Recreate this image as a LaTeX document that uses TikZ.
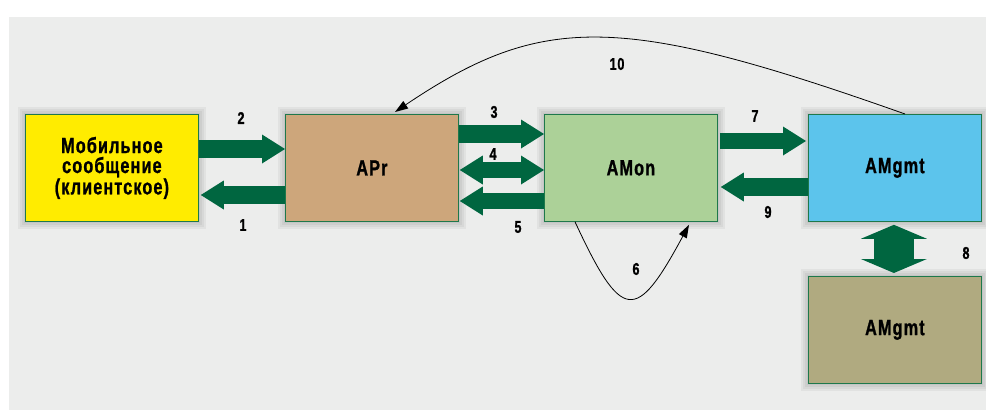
\documentclass[tikz,border=0pt]{standalone}
\usepackage{fontspec}
\usetikzlibrary{arrows.meta,calc,backgrounds}
\newfontfamily\lab{Liberation Sans}[FakeStretch=0.74,LetterSpace=5,FakeBold=1]

\definecolor{bgray}{RGB}{236,237,236}
\definecolor{boxline}{RGB}{30,120,75}
\definecolor{fatgreen}{RGB}{0,102,64}
\definecolor{cyell}{RGB}{255,236,0}
\definecolor{ctan}{RGB}{205,166,123}
\definecolor{cgreen}{RGB}{172,209,152}
\definecolor{cblue}{RGB}{92,196,236}
\definecolor{colive}{RGB}{176,170,128}

\tikzset{
  box/.style={draw=boxline, line width=0.8pt, minimum width=173pt,
    minimum height=107pt, inner sep=0pt, anchor=north west, align=center,
    font=\lab\bfseries\fontsize{22}{20}\selectfont},
  num/.style={inner sep=0pt, font=\lab\bfseries\fontsize{17}{17}\selectfont},
  fat/.style={draw=fatgreen, line width=#1},
  fat/.default=18pt,
  fathead/.tip={Triangle[width=29pt,length=23pt,line width=0pt]},
  thin/.style={draw=black, line width=0.8pt,
    -{Triangle[width=9pt,length=13pt,line width=0pt]}},
  shadowlayer/.style={fill=black, fill opacity=0.045},
}

\begin{document}
\begin{tikzpicture}[x=1pt,y=-1pt]
  \useasboundingbox (0,0) rectangle (986,412);

  % blocks
  \node[box, fill=cyell]  (mob)  at (25,114)  {Мобильное\\сообщение\\(клиентское)};
  \node[box, fill=ctan]   (apr)  at (285,114) {APr};
  \node[box, fill=cgreen] (amon) at (544,114) {AMon};
  \node[box, fill=cblue]  (mgt)  at (808,114) {AMgmt};
  \node[box, fill=colive] (mgt2) at (808,276) {AMgmt};

  % panel and soft drop shadows behind the blocks
  \begin{scope}[on background layer]
    \fill[bgray] (9,17) rectangle (986,410);
    \begin{scope}[shift={(10,10)}]
      \foreach \n in {mob,apr,amon,mgt,mgt2}
        \foreach \r in {-7,-5,...,7}
          \fill[shadowlayer] ($(\n.north west)+(-\r,-\r)$) rectangle ($(\n.south east)+(\r,\r)$);
    \end{scope}
    \fill[white] (0,410) rectangle (986,412);
  \end{scope}

  % thick message arrows
  \draw[fat, -fathead] ($(mob.north east)+(0,35)$) -- ($(apr.north west)+(0,35)$);
  \draw[fat, -fathead] ($(apr.north west)+(0,81)$) -- ($(mob.north east)+(2,81)$);
  \draw[fat, -fathead] ($(apr.north east)+(0,20)$) -- ($(amon.north west)+(0,20)$);
  \draw[fat=16pt, fathead-fathead] ($(apr.north east)+(1,56)$) -- ($(amon.north west)+(0,56)$);
  \draw[fat=16pt, -fathead] ($(amon.north west)+(0,87)$) -- ($(apr.north east)+(1,87)$);
  \draw[fat=16pt, -fathead] ($(amon.north east)+(2,27)$) -- ($(mgt.north west)+(-2,27)$);
  \draw[fat, -fathead] ($(mgt.north west)+(0,73)$) -- ($(amon.north east)+(3,73)$);
  \draw[fat=40pt, {Triangle[width=66pt,length=14pt,line width=0pt]}-{Triangle[width=66pt,length=14pt,line width=0pt]}]
    ($(mgt.south)+(-1,3)$) -- ($(mgt2.north)+(-1,-3)$);

  % thin curved arrows
  \coordinate (c6a) at ($(amon.south west)+(31,0)$);
  \coordinate (c6b) at ($(amon.south west)+(145,3)$);
  \draw[thin] (c6a) .. controls (622,323) and (636,323) .. (c6b);
  \coordinate (c10a) at ($(mgt.north west)+(97,0)$);
  \coordinate (c10b) at ($(apr.north west)+(110,-2)$);
  \draw[thin] (c10a) .. controls (620,13) and (542,13) .. (c10b);

  % step numbers
  \node[num] (n1)  at (243,225) {1};
  \node[num] (n2)  at (241,118) {2};
  \node[num] (n3)  at (494,112) {3};
  \node[num] (n4)  at (493,154) {4};
  \node[num] (n5)  at (518,227) {5};
  \node[num] (n6)  at (636,269) {6};
  \node[num] (n7)  at (755,116) {7};
  \node[num] (n8)  at (966,253) {8};
  \node[num] (n9)  at (768,212) {9};
  \node[num] (n10) at (617,64)  {10};
\end{tikzpicture}
\end{document}
